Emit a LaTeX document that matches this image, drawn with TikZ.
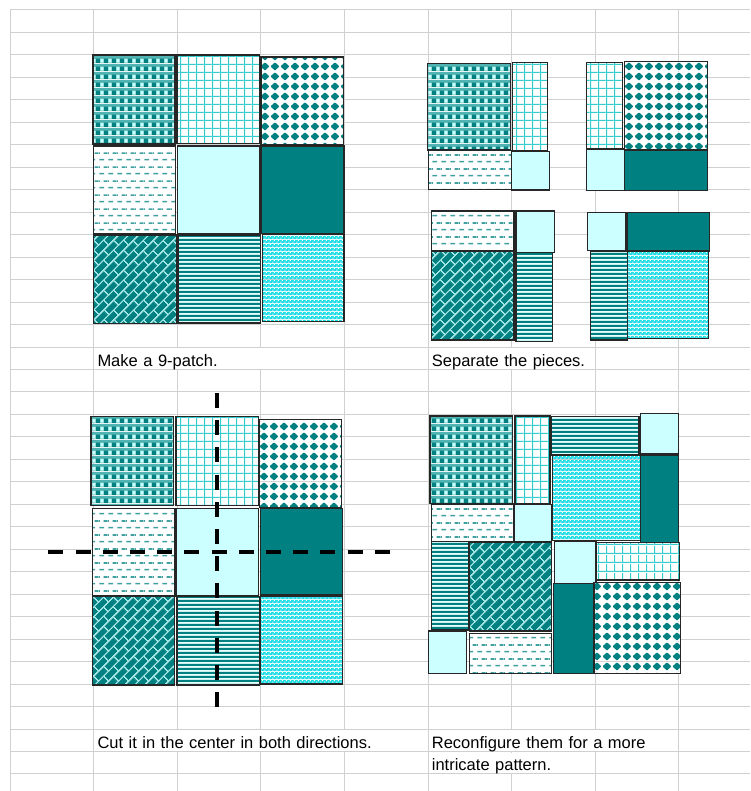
\documentclass[tikz,border=0pt]{standalone}
\usepackage{fontspec}
\setmainfont{Liberation Sans}
\usepackage{xcolor}
\usetikzlibrary{
    positioning,
    patterns.meta
}

\definecolor{quiltteal}{HTML}{008080}
\definecolor{quiltice}{HTML}{CCFFFF}
\definecolor{quiltaqua}{HTML}{33CCCC}
\definecolor{quiltdot}{HTML}{1CDCE6}
\definecolor{cellgray}{HTML}{D0D0D0}

\tikzdeclarepattern{
    name=plaidtile, type=colored,
    bounding box={(0pt,0pt) and (8pt,8pt)}, tile size={(8pt,8pt)},
    code={
        \fill[quiltteal!60!quiltice] (0pt,0pt) rectangle (8pt,8pt);
        \fill[quiltteal] (0pt,0pt) rectangle (4.5pt,5pt);
        \fill[quiltice] (5pt,0.5pt) rectangle (8pt,4.5pt);
    }
}
\tikzdeclarepattern{
    name=gridtile, type=colored,
    bounding box={(0pt,0pt) and (8.2pt,8.4pt)}, tile size={(8.2pt,8.4pt)},
    code={
        \fill[white] (0pt,0pt) rectangle (8.2pt,8.4pt);
        \fill[quiltaqua] (0pt,0pt) rectangle (1.2pt,8.4pt);
        \fill[quiltaqua] (0pt,0pt) rectangle (8.2pt,1.2pt);
    }
}
\tikzdeclarepattern{
    name=diamondtile, type=colored,
    bounding box={(0pt,0pt) and (10.4pt,10pt)}, tile size={(10.4pt,10pt)},
    code={
        \fill[white] (0pt,0pt) rectangle (10.4pt,10pt);
        \fill[quiltteal, rounded corners=0.8pt] (5.2pt,0.5pt) -- (9.9pt,5pt) -- (5.2pt,9.5pt) -- (0.5pt,5pt) -- cycle;
    }
}
\tikzdeclarepattern{
    name=dashtile, type=colored,
    bounding box={(0pt,0pt) and (9pt,13.6pt)}, tile size={(9pt,13.6pt)},
    code={
        \fill[white] (0pt,0pt) rectangle (9pt,13.6pt);
        \fill[quiltteal!75!white] (0.5pt,2.6pt) rectangle (5.5pt,4.2pt);
        \fill[quiltteal!75!white] (5pt,9.4pt) rectangle (9pt,11pt);
        \fill[quiltteal!75!white] (0pt,9.4pt) rectangle (1pt,11pt);
    }
}
\tikzdeclarepattern{
    name=bricktile, type=colored,
    bounding box={(0pt,0pt) and (14pt,14pt)}, tile size={(14pt,14pt)},
    tile transformation={rotate=45},
    code={
        \fill[quiltteal] (0pt,0pt) rectangle (14pt,14pt);
        \fill[quiltice!80!quiltteal] (0pt,0pt) rectangle (14pt,1.3pt);
        \fill[quiltice!80!quiltteal] (0pt,7pt) rectangle (14pt,8.3pt);
        \fill[quiltice!80!quiltteal] (0pt,0pt) rectangle (1.3pt,7pt);
        \fill[quiltice!80!quiltteal] (7pt,7pt) rectangle (8.3pt,14pt);
    }
}
\tikzdeclarepattern{
    name=stripetile, type=colored,
    bounding box={(0pt,0pt) and (4.4pt,4.4pt)}, tile size={(4.4pt,4.4pt)},
    code={
        \fill[quiltice!50!white] (0pt,0pt) rectangle (4.4pt,4.4pt);
        \fill[quiltteal] (0pt,0pt) rectangle (4.4pt,2.4pt);
    }
}
\tikzdeclarepattern{
    name=dottile, type=colored,
    bounding box={(0pt,0pt) and (4pt,4pt)}, tile size={(4pt,4pt)},
    code={
        \fill[quiltdot] (0pt,0pt) rectangle (4pt,4pt);
        \fill[white] (0.4pt,0.4pt) rectangle (1.6pt,1.6pt);
        \fill[white] (2.4pt,2.4pt) rectangle (3.6pt,3.6pt);
    }
}

\begin{document}
\begin{tikzpicture}[
    x=1pt, y=-1pt,
    every node/.style={font=\fontsize{16.5}{19}\selectfont},
    cellline/.style={draw=cellgray, line width=1pt},
    cell/.style={fill=white, anchor=west, align=left, inner xsep=3pt, inner ysep=1pt, text height=17pt, text depth=1.5pt},
    piece/.style={draw=black!85, line width=1.2pt},
    plaid piece/.style={piece, pattern=plaidtile},
    grid piece/.style={piece, pattern=gridtile},
    diamond piece/.style={piece, pattern=diamondtile},
    dash piece/.style={piece, pattern=dashtile},
    ice piece/.style={piece, fill=quiltice},
    teal piece/.style={piece, fill=quiltteal},
    brick piece/.style={piece, pattern=bricktile},
    stripe piece/.style={piece, pattern=stripetile},
    dot piece/.style={piece, pattern=dottile},
    cutline/.style={draw=black, line width=4pt, dash pattern=on 15pt off 12.2pt}
]
\useasboundingbox (0,0) rectangle (750,791);
\fill[white] (0,0) rectangle (750,791);

\foreach \k in {0,...,34}
    \draw[cellline] (10,10+22.47*\k) -- (750,10+22.47*\k);
\foreach \j in {0,...,8}
    \draw[cellline] (10+83.6*\j,10) -- (10+83.6*\j,791);

\draw[plaid piece] (93,55) rectangle (175,144);
\draw[grid piece] (177,55) rectangle (259.5,143.5);
\draw[diamond piece] (261,57) rectangle (343.5,145);
\draw[dash piece] (93.5,146) rectangle (175.5,234);
\draw[ice piece] (177.5,146) rectangle (260,234);
\draw[teal piece] (261.5,146) rectangle (344,233.5);
\draw[brick piece] (93.5,235) rectangle (176.5,323.5);
\draw[stripe piece] (178,235) rectangle (260.5,323);
\draw[dot piece] (262.5,234) rectangle (344,321.5);

\draw[plaid piece] (427.7,63.3) rectangle (510.7,150);
\draw[grid piece] (512.3,62.7) rectangle (547.7,150.7);
\draw[dash piece] (428.3,150.7) rectangle (511.7,189.3);
\draw[ice piece] (511.7,151.7) rectangle (549.3,190);
\draw[grid piece] (586.7,62.7) rectangle (622.3,149);
\draw[diamond piece] (624.3,61.7) rectangle (707.3,150);
\draw[ice piece] (586.7,149) rectangle (624.3,190.7);
\draw[teal piece] (624.3,150) rectangle (707.3,190.7);
\draw[dash piece] (431.7,211) rectangle (514,251);
\draw[ice piece] (516,211) rectangle (554.3,252.7);
\draw[brick piece] (431.7,251) rectangle (514,340);
\draw[stripe piece] (516,252.7) rectangle (552.7,341.7);
\draw[ice piece] (587.7,212.3) rectangle (626,250.7);
\draw[teal piece] (627.3,212.3) rectangle (709.3,251);
\draw[stripe piece] (590.7,251) rectangle (627.3,340);
\draw[dot piece] (627.3,251) rectangle (708.3,338.3);

\draw[plaid piece] (91,416.7) rectangle (173.3,505.7);
\draw[grid piece] (176,416.7) rectangle (258.3,505.7);
\draw[diamond piece] (259.3,419.3) rectangle (341.7,507.7);
\draw[dash piece] (92.3,508.3) rectangle (174.3,596);
\draw[ice piece] (176,508.3) rectangle (258.3,596);
\draw[teal piece] (260.7,508.3) rectangle (342.7,595);
\draw[brick piece] (92.3,596.7) rectangle (174.3,685);
\draw[stripe piece] (177,596.7) rectangle (259.3,685);
\draw[dot piece] (260.7,596) rectangle (342.7,684);

\draw[plaid piece] (430,416) rectangle (512.3,503.3);
\draw[grid piece] (515,416) rectangle (550,503.3);
\draw[stripe piece] (551.7,416.7) rectangle (639,455);
\draw[ice piece] (640.7,413.3) rectangle (678.3,453.3);
\draw[dash piece] (431.7,504) rectangle (514,541.7);
\draw[ice piece] (514,504.3) rectangle (551.7,541.7);
\draw[dot piece] (552.7,455.7) rectangle (640.7,540.7);
\draw[teal piece] (640.7,455) rectangle (678.3,542.7);
\draw[stripe piece] (431.7,541.7) rectangle (468.3,630);
\draw[brick piece] (469.3,542.7) rectangle (551.7,631);
\draw[ice piece] (554.3,541.7) rectangle (596,583.3);
\draw[grid piece] (596,542.7) rectangle (679.3,580);
\draw[ice piece] (428.3,631) rectangle (466.7,673.3);
\draw[dash piece] (469.3,633.3) rectangle (551.7,673.3);
\draw[teal piece] (553.3,583.3) rectangle (593.3,673.3);
\draw[diamond piece] (594,582.7) rectangle (680.7,673.3);

\draw[cutline] (217.3,393) -- (217.3,710);
\draw[cutline] (48.3,552.3) -- (391.7,552.3);

\node[cell, text width=160pt] (make) at (94.3,358.3) {Make a 9-patch.};
\node[cell, text width=160pt] (separate) at (428.7,358.3) {Separate the pieces.};
\node[cell, text width=327.4pt] (cut) at (94.3,740.3) {Cut it in the center in both directions.};
\node[cell, text width=242.8pt] (reconfig) at (428.7,740.3) {Reconfigure them for a more};
\node[cell, text width=159.5pt, below=1.97pt of reconfig.south west, anchor=north west] (intricate) {intricate pattern.};

\end{tikzpicture}
\end{document}
